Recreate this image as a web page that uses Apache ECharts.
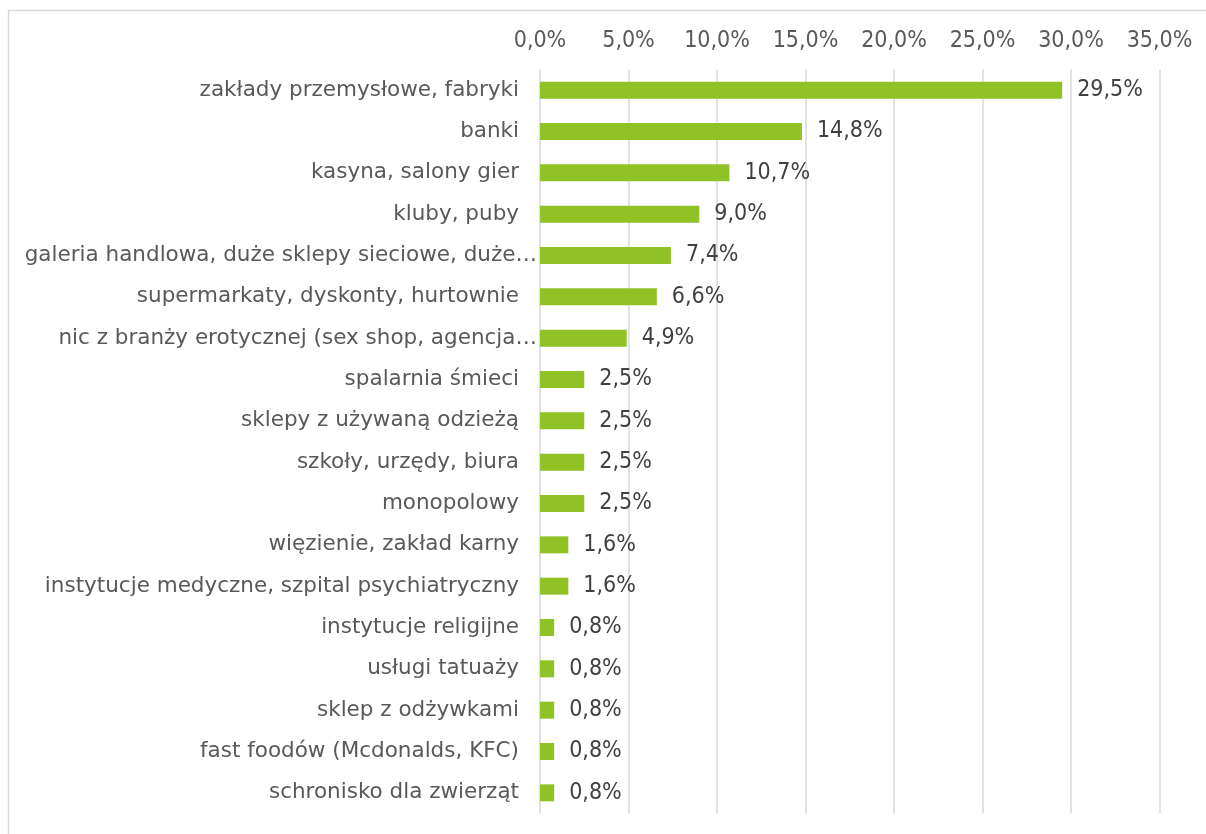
<!DOCTYPE html>
<html>
<head>
<meta charset="utf-8">
<script src="https://cdn.jsdelivr.net/npm/echarts@6/dist/echarts.min.js"></script>
<style>
  html, body { margin: 0; padding: 0; background: #fff; }
  #chart { width: 1206px; height: 834px; }
</style>
</head>
<body>
<div id="chart"></div>
<script>
// kategorie i wartości (%)
const categories = [
  "zakłady przemysłowe, fabryki",
  "banki",
  "kasyna, salony gier",
  "kluby, puby",
  "galeria handlowa, duże sklepy sieciowe, duże…",
  "supermarkaty, dyskonty, hurtownie",
  "nic z branży erotycznej (sex shop, agencja…",
  "spalarnia śmieci",
  "sklepy z używaną odzieżą",
  "szkoły, urzędy, biura",
  "monopolowy",
  "więzienie, zakład karny",
  "instytucje medyczne, szpital psychiatryczny",
  "instytucje religijne",
  "usługi tatuaży",
  "sklep z odżywkami",
  "fast foodów (Mcdonalds, KFC)",
  "schronisko dla zwierząt"
];
const values = [29.5, 14.8, 10.7, 9.0, 7.4, 6.6, 4.9, 2.5, 2.5, 2.5, 2.5, 1.6, 1.6, 0.8, 0.8, 0.8, 0.8, 0.8];

const fmt = (v) => v.toFixed(1).replace(".", ",") + "%";
const font = "'DejaVu Sans', sans-serif";
const numFont = "'DejaVu Sans Condensed', sans-serif";
const catStyle = { color: "#595959", fontSize: 21.5, fontFamily: font };

const chart = echarts.init(document.getElementById("chart"));
chart.setOption({
  animation: false,
  textStyle: { fontFamily: font },
  graphic: [
    {
      type: "rect",
      shape: { x: 8.5, y: 10.5, width: 1210, height: 840 },
      style: { fill: "none", stroke: "#d9d9d9", lineWidth: 1.5 },
      silent: true
    }
  ],
  grid: { left: 540, right: 46.5, top: 69.5, bottom: 20.5 },
  xAxis: {
    type: "value",
    position: "top",
    min: 0,
    max: 35,
    interval: 5,
    axisLine: { show: false },
    axisTick: { show: false },
    axisLabel: {
      formatter: fmt,
      color: "#595959",
      fontSize: 23,
      margin: 17,
      fontFamily: numFont
    },
    splitLine: { lineStyle: { color: "#d9d9d9", width: 1.5 } }
  },
  yAxis: {
    type: "category",
    inverse: true,
    data: categories,
    axisLine: { show: false },
    axisTick: { show: false },
    axisLabel: {
      margin: 3,
      ...catStyle,
      // obcięte etykiety (z "…") sięgają bliżej osi
      formatter: (v) => (v.endsWith("…") ? "{t|" + v + "}" : "{n|" + v + "}"),
      rich: {
        n: { ...catStyle, padding: [0, 18, 0, 0] },
        t: { ...catStyle, padding: [0, 0, 0, 0] }
      }
    }
  },
  series: [
    {
      type: "bar",
      data: values,
      barWidth: 17,
      itemStyle: { color: "#90c225" },
      label: {
        show: true,
        position: "right",
        distance: 15,
        color: "#404040",
        fontSize: 23,
        fontFamily: numFont,
        formatter: (p) => fmt(p.value)
      }
    }
  ]
});
</script>
</body>
</html>
